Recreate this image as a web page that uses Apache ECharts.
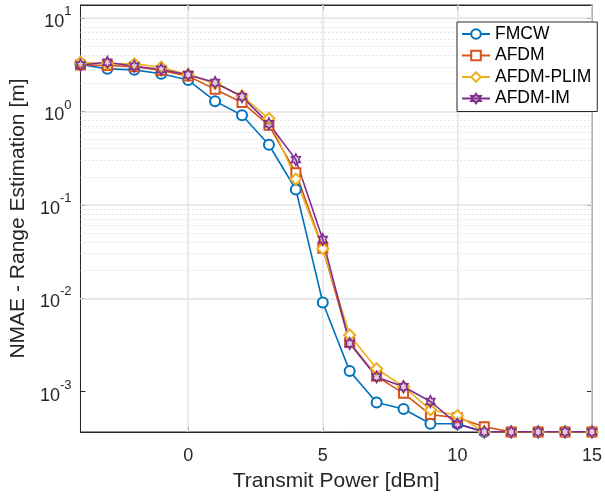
<!DOCTYPE html>
<html>
<head>
<meta charset="utf-8">
<script src="https://cdn.jsdelivr.net/npm/echarts@6/dist/echarts.min.js"></script>
<style>
html,body{margin:0;padding:0;background:#fff;}
#chart{width:605px;height:497px;}
</style>
</head>
<body>
<div id="chart"></div>
<script>
// Data
var xValues = [-4,-3,-2,-1,0,1,2,3,4,5,6,7,8,9,10,11,12,13,14,15];
var fmcw = [3.18,2.86,2.79,2.53,2.17,1.29,0.91,0.44,0.146,0.009,0.00166,0.000766,0.000652,0.000453,0.000453,0.000371,0.000371,0.000371,0.000371,0.000371];
var afdm = [3.15,3.10,3.02,2.74,2.39,1.73,1.25,0.71,0.221,0.0344,0.00336,0.00146,0.00096,0.000568,0.000525,0.000421,0.000371,0.000371,0.000371,0.000371];
var afdmPlim = [3.36,3.23,3.23,2.98,2.47,1.99,1.47,0.84,0.189,0.034,0.00404,0.00176,0.00113,0.00064,0.000555,0.000371,0.000371,0.000371,0.000371,0.000371];
var afdmIm = [3.15,3.36,3.05,2.81,2.47,2.04,1.44,0.74,0.305,0.0425,0.00328,0.00144,0.00113,0.000785,0.00045,0.000371,0.000371,0.000371,0.000371,0.000371];
var seriesNames = ['FMCW','AFDM','AFDM-PLIM','AFDM-IM'];
var xTicks = [0,5,10,15];
var yMajor = [0.001,0.01,0.1,1,10];
var yMin = 3.7e-4, yMax = 13.8;

var colors = ['#0072BD','#D95319','#EDB120','#7E2F8E'];
var hexagram = 'path://M50 0 L64.43 25 L93.3 25 L78.87 50 L93.3 75 L64.43 75 L50 100 L35.57 75 L6.7 75 L21.13 50 L6.7 25 L35.57 25 Z';

function pairs(arr){ return xValues.map(function(x,i){ return [x, arr[i]]; }); }

var minorVals = [];
for (var e = -4; e <= 1; e++) {
  for (var m = 2; m <= 9; m++) {
    var v = m * Math.pow(10, e);
    if (v > yMin && v < yMax) minorVals.push(v);
  }
}

var font = 'Liberation Sans, Arial, Helvetica, sans-serif';
var axisColor = '#262626';

var chart = echarts.init(document.getElementById('chart'), null, {renderer:'canvas'});

function mkSeries(name, data, symbol, size, color, extraItem){
  return {
    name: name, type: 'line', data: pairs(data),
    symbol: symbol, symbolSize: size, symbolKeepAspect: true,
    showSymbol: true, z: 5,
    lineStyle: {color: color, width: 1.6},
    itemStyle: Object.assign({color: color, borderColor: color, borderWidth: 1.4}, extraItem || {}),
    emphasis: {disabled: true},
    animation: false
  };
}

var option = {
  animation: false,
  color: colors,
  grid: {left: 76, right: 12, top: 5, bottom: 57, show: true, borderColor: axisColor, borderWidth: 1, backgroundColor: '#fff'},
  xAxis: [{
    type: 'value', min: -4, max: 15,
    name: 'Transmit Power [dBm]', nameLocation: 'middle', nameGap: 39,
    nameTextStyle: {fontFamily: font, fontSize: 21, color: axisColor},
    axisLine: {show: true, onZero: false, lineStyle: {color: axisColor}},
    axisTick: {show: true, inside: true, length: 5, customValues: xTicks, lineStyle: {color: axisColor}},
    axisLabel: {show: true, customValues: xTicks, margin: 15, fontFamily: font, fontSize: 18, color: axisColor},
    splitLine: {show: false}
  },{
    type: 'value', min: -4, max: 15, position: 'top',
    axisLine: {show: true, onZero: false, lineStyle: {color: axisColor}},
    axisTick: {show: true, inside: true, length: 5, customValues: xTicks, lineStyle: {color: axisColor}},
    axisLabel: {show: false},
    splitLine: {show: false}
  }],
  yAxis: [{
    type: 'log', logBase: 10, min: yMin, max: yMax,
    name: 'NMAE - Range Estimation [m]', nameLocation: 'middle', nameGap: 44,
    nameTextStyle: {fontFamily: font, fontSize: 21, color: axisColor},
    axisLine: {show: true, onZero: false, lineStyle: {color: axisColor}},
    axisTick: {show: true, inside: true, length: 5, lineStyle: {color: axisColor}},
    axisLabel: {
      show: true, margin: 9, fontFamily: font, color: axisColor,
      showMinLabel: false, showMaxLabel: false,
      formatter: function(v){
        var lg = Math.log10(v);
        var e = Math.round(lg);
        if (Math.abs(lg - e) > 0.01) return '';
        return '{b|10}{s|' + e + '}';
      },
      rich: {
        b: {fontFamily: font, fontSize: 18, color: axisColor, lineHeight: 26, verticalAlign: 'bottom'},
        s: {fontFamily: font, fontSize: 13, color: axisColor, lineHeight: 26, verticalAlign: 'top'}
      }
    },
    splitLine: {show: false}
  },{
    type: 'log', logBase: 10, min: yMin, max: yMax, position: 'right',
    axisLine: {show: true, onZero: false, lineStyle: {color: axisColor}},
    axisTick: {show: true, inside: true, length: 5, lineStyle: {color: axisColor}},
    axisLabel: {show: false},
    splitLine: {show: false}
  }],
  legend: {
    orient: 'vertical', left: 457, top: 22,
    data: seriesNames,
    backgroundColor: '#fff', borderColor: axisColor, borderWidth: 1, borderRadius: 0,
    padding: [3, 6, 4, 4], itemGap: 3.5, itemWidth: 28, itemHeight: 12,
    textStyle: {fontFamily: font, fontSize: 17.5, color: '#000'},
    z: 10
  },
  series: [
    {
      type: 'line', data: [], silent: true, z: 1,
      markLine: {
        silent: true, symbol: ['none','none'], label: {show: false}, animation: false,
        lineStyle: {type: [1,3], color: '#cfcfcf', width: 1},
        emphasis: {disabled: true},
        data: minorVals.map(function(v){ return {yAxis: v}; })
      }
    },
    {
      type: 'line', data: [], silent: true, z: 2,
      markLine: {
        silent: true, symbol: ['none','none'], label: {show: false}, animation: false,
        lineStyle: {type: 'solid', color: '#e3e3e3', width: 1.5},
        emphasis: {disabled: true},
        data: yMajor.map(function(v){ return {yAxis: v}; }).concat(xTicks.map(function(v){ return {xAxis: v}; }))
      }
    },
    mkSeries('FMCW', fmcw, 'emptyCircle', 10, colors[0]),
    mkSeries('AFDM', afdm, 'emptyRect', 9, colors[1]),
    mkSeries('AFDM-PLIM', afdmPlim, 'emptyDiamond', 11, colors[2]),
    mkSeries('AFDM-IM', afdmIm, hexagram, [10, 11.5], colors[3], {color: 'rgba(126,47,142,0.25)', borderWidth: 1.6})
  ]
};
chart.setOption(option);
</script>
</body>
</html>
